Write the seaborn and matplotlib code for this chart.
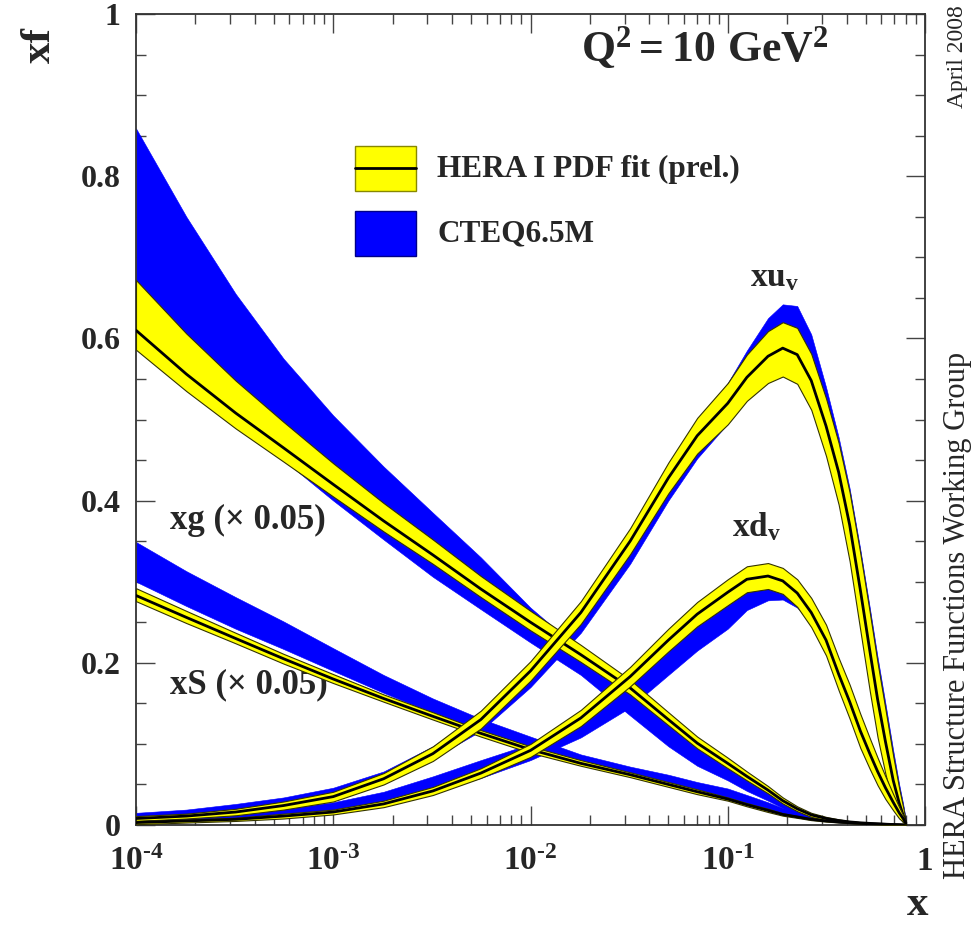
import numpy as np
import pandas as pd
import matplotlib
matplotlib.use("Agg")
import matplotlib.pyplot as plt
from matplotlib.ticker import FixedLocator, NullFormatter
from matplotlib.patches import Rectangle
import seaborn as sns

# x grid
x = [1e-4, 1.8e-4, 3.2e-4, 5.6e-4, 1e-3, 1.8e-3, 3.2e-3, 5.6e-3, 1e-2, 1.8e-2,
     3.2e-2, 5e-2, 7e-2, 0.1, 0.125, 0.16, 0.19, 0.225, 0.265, 0.315,
     0.365, 0.415, 0.47, 0.525, 0.575, 0.63, 0.69, 0.74, 0.775, 0.8]

# xg (x 0.05): HERA central / upper / lower, CTEQ upper / lower
g_c = [0.610, 0.556, 0.508, 0.465, 0.420, 0.375, 0.333, 0.291, 0.250, 0.210,
       0.169, 0.130, 0.101, 0.076, 0.060, 0.043, 0.030, 0.020, 0.0125, 0.008,
       0.0055, 0.0038, 0.0027, 0.002, 0.0015, 0.001, 0.0006, 0.0003, 0.0001, 0.0]
g_hi = [0.672, 0.606, 0.548, 0.497, 0.446, 0.397, 0.352, 0.307, 0.264, 0.222,
        0.179, 0.139, 0.109, 0.083, 0.066, 0.048, 0.034, 0.023, 0.015, 0.010,
        0.007, 0.0048, 0.0035, 0.0026, 0.002, 0.0014, 0.0009, 0.0005, 0.0002, 0.0]
g_lo = [0.586, 0.535, 0.489, 0.448, 0.405, 0.362, 0.322, 0.281, 0.240, 0.201,
        0.161, 0.123, 0.0945, 0.070, 0.055, 0.039, 0.0265, 0.017, 0.010, 0.006,
        0.004, 0.0028, 0.0019, 0.0014, 0.001, 0.0006, 0.0003, 0.0001, 0.0, 0.0]
cg_hi = [0.859, 0.750, 0.655, 0.575, 0.505, 0.442, 0.385, 0.330, 0.268, 0.215,
         0.172, 0.132, 0.103, 0.080, 0.063, 0.046, 0.033, 0.022, 0.0135, 0.009,
         0.006, 0.0042, 0.003, 0.0022, 0.0016, 0.0011, 0.0007, 0.0004, 0.0002, 0.0]
cg_lo = [0.600, 0.545, 0.496, 0.450, 0.400, 0.352, 0.306, 0.266, 0.225, 0.185,
         0.135, 0.097, 0.073, 0.055, 0.042, 0.030, 0.021, 0.013, 0.008, 0.005,
         0.0032, 0.0022, 0.0015, 0.001, 0.0008, 0.0005, 0.0003, 0.0002, 0.0001, 0.0]

# xS (x 0.05)
s_c = [0.283, 0.256, 0.230, 0.205, 0.180, 0.156, 0.134, 0.113, 0.093, 0.076,
       0.062, 0.050, 0.041, 0.032, 0.025, 0.018, 0.013, 0.010, 0.007, 0.005,
       0.0037, 0.0028, 0.002, 0.0015, 0.0011, 0.0008, 0.0005, 0.0003, 0.0001, 0.0]
s_hi = [0.292, 0.264, 0.237, 0.211, 0.186, 0.161, 0.139, 0.117, 0.097, 0.080,
        0.065, 0.053, 0.044, 0.034, 0.027, 0.020, 0.0145, 0.011, 0.008, 0.0058,
        0.0043, 0.0033, 0.0024, 0.0018, 0.0013, 0.0009, 0.0006, 0.0004, 0.0002, 0.0]
s_lo = [0.276, 0.249, 0.224, 0.199, 0.175, 0.152, 0.130, 0.109, 0.089, 0.073,
        0.059, 0.047, 0.038, 0.030, 0.023, 0.016, 0.0115, 0.0088, 0.006, 0.0042,
        0.0031, 0.0023, 0.0016, 0.0012, 0.0009, 0.0006, 0.0004, 0.0002, 0.0001, 0.0]
cs_hi = [0.349, 0.313, 0.281, 0.251, 0.218, 0.185, 0.156, 0.131, 0.109, 0.087,
         0.072, 0.062, 0.053, 0.045, 0.037, 0.028, 0.021, 0.016, 0.011, 0.0075,
         0.005, 0.0037, 0.0027, 0.002, 0.0014, 0.001, 0.0006, 0.0004, 0.0002, 0.0]
cs_lo = [0.300, 0.270, 0.242, 0.217, 0.190, 0.163, 0.138, 0.116, 0.096, 0.078,
         0.064, 0.051, 0.043, 0.034, 0.027, 0.019, 0.014, 0.0105, 0.007, 0.005,
         0.0037, 0.0028, 0.002, 0.0015, 0.0011, 0.0008, 0.0005, 0.0003, 0.0001, 0.0]

# xu_v
u_c = [0.008, 0.011, 0.016, 0.024, 0.035, 0.057, 0.088, 0.130, 0.190, 0.262,
       0.350, 0.428, 0.480, 0.520, 0.552, 0.578, 0.588, 0.580, 0.548, 0.492,
       0.435, 0.370, 0.290, 0.215, 0.155, 0.103, 0.055, 0.027, 0.012, 0.003]
u_hi = [0.011, 0.014, 0.020, 0.029, 0.041, 0.064, 0.097, 0.141, 0.202, 0.276,
        0.366, 0.447, 0.502, 0.545, 0.580, 0.609, 0.620, 0.613, 0.581, 0.526,
        0.471, 0.410, 0.335, 0.262, 0.200, 0.143, 0.085, 0.045, 0.022, 0.005]
u_lo = [0.005, 0.008, 0.012, 0.019, 0.029, 0.050, 0.079, 0.119, 0.178, 0.248,
        0.334, 0.409, 0.458, 0.494, 0.523, 0.545, 0.553, 0.544, 0.512, 0.455,
        0.395, 0.325, 0.240, 0.165, 0.108, 0.063, 0.025, 0.010, 0.003, 0.001]
cu_hi = [0.015, 0.019, 0.026, 0.034, 0.046, 0.066, 0.097, 0.138, 0.197, 0.269,
         0.358, 0.440, 0.497, 0.545, 0.585, 0.625, 0.642, 0.640, 0.605, 0.540,
         0.478, 0.415, 0.340, 0.268, 0.207, 0.150, 0.092, 0.050, 0.026, 0.006]
cu_lo = [0.008, 0.011, 0.016, 0.024, 0.035, 0.055, 0.082, 0.116, 0.170, 0.237,
         0.322, 0.400, 0.452, 0.495, 0.528, 0.555, 0.565, 0.560, 0.530, 0.470,
         0.405, 0.335, 0.250, 0.175, 0.118, 0.072, 0.032, 0.013, 0.005, 0.0]

# xd_v
d_c = [0.003, 0.005, 0.007, 0.011, 0.016, 0.026, 0.042, 0.064, 0.092, 0.132,
       0.183, 0.228, 0.260, 0.287, 0.303, 0.307, 0.301, 0.286, 0.262, 0.228,
       0.186, 0.152, 0.116, 0.088, 0.066, 0.046, 0.028, 0.015, 0.008, 0.002]
d_hi = [0.005, 0.007, 0.009, 0.014, 0.019, 0.030, 0.047, 0.070, 0.100, 0.142,
        0.195, 0.242, 0.275, 0.303, 0.319, 0.323, 0.317, 0.303, 0.280, 0.247,
        0.206, 0.173, 0.137, 0.107, 0.083, 0.060, 0.038, 0.022, 0.012, 0.003]
d_lo = [0.001, 0.003, 0.005, 0.008, 0.013, 0.022, 0.037, 0.058, 0.084, 0.122,
        0.171, 0.214, 0.245, 0.271, 0.287, 0.291, 0.285, 0.269, 0.244, 0.209,
        0.166, 0.131, 0.095, 0.069, 0.049, 0.032, 0.018, 0.008, 0.004, 0.001]
cd_hi = [0.007, 0.010, 0.014, 0.020, 0.028, 0.041, 0.060, 0.080, 0.100, 0.135,
         0.180, 0.222, 0.252, 0.278, 0.293, 0.298, 0.294, 0.281, 0.260, 0.228,
         0.188, 0.155, 0.120, 0.092, 0.070, 0.050, 0.031, 0.017, 0.009, 0.002]
cd_lo = [0.003, 0.005, 0.008, 0.012, 0.018, 0.028, 0.040, 0.058, 0.080, 0.108,
         0.145, 0.185, 0.215, 0.242, 0.265, 0.277, 0.278, 0.268, 0.250, 0.218,
         0.176, 0.140, 0.104, 0.076, 0.055, 0.037, 0.021, 0.010, 0.004, 0.0]

YELLOW = "#ffff00"
BLUE = "#0000ff"

sns.set_theme(style="ticks")
plt.rcParams["font.family"] = ["Liberation Serif", "DejaVu Serif"]
plt.rcParams["font.weight"] = "bold"
plt.rcParams["mathtext.fontset"] = "custom"
plt.rcParams["mathtext.rm"] = "Liberation Serif:bold"
plt.rcParams["mathtext.bf"] = "Liberation Serif:bold"
plt.rcParams["mathtext.it"] = "Liberation Serif:bold"
plt.rcParams["mathtext.default"] = "bf"

fig = plt.figure(figsize=(9.71, 9.27), dpi=100)
ax = fig.add_axes([136 / 971, 1 - 825 / 927, (925 - 136) / 971, (825 - 14) / 927])

cteq = [(cg_lo, cg_hi), (cs_lo, cs_hi), (cu_lo, cu_hi), (cd_lo, cd_hi)]
hera = [(g_lo, g_c, g_hi), (s_lo, s_c, s_hi), (u_lo, u_c, u_hi), (d_lo, d_c, d_hi)]

# CTEQ bands underneath, HERA bands with central line on top
for lo, hi in cteq:
    ax.fill_between(x, lo, hi, color=BLUE, lw=0.4, zorder=2)

for i, (lo, c, hi) in enumerate(hera):
    ax.fill_between(x, lo, hi, facecolor=YELLOW, edgecolor="#333300", lw=0.8, zorder=3 + i)
    df = pd.DataFrame({"x": x, "y": c})
    sns.lineplot(data=df, x="x", y="y", ax=ax, color="black", lw=2.0, zorder=3 + i,
                 estimator=None, sort=False)

ax.set_xscale("log")
ax.set_xlim(1e-4, 1)
ax.set_ylim(0, 1)
ax.set_xlabel("")
ax.set_ylabel("")

ax.set_xticks([1e-4, 1e-3, 1e-2, 1e-1, 1])
ax.set_xticklabels([r"$10^{\text{-4}}$", r"$10^{\text{-3}}$", r"$10^{\text{-2}}$",
                    r"$10^{\text{-1}}$", "1"])
minors = [m * 10.0 ** e for e in range(-4, 0) for m in range(2, 10)]
ax.xaxis.set_minor_locator(FixedLocator(minors))
ax.xaxis.set_minor_formatter(NullFormatter())
ax.set_yticks([0, 0.2, 0.4, 0.6, 0.8, 1.0])
ax.set_yticklabels(["0", "0.2", "0.4", "0.6", "0.8", "1"])
ax.yaxis.set_minor_locator(FixedLocator(np.arange(0, 1.0001, 0.05)))

ax.tick_params(which="both", direction="in", top=True, right=True, color="#444444")
ax.tick_params(which="major", length=14, width=1.0)
ax.tick_params(which="minor", length=7, width=1.0)
ax.tick_params(axis="x", which="major", pad=15, labelsize=24)
ax.tick_params(axis="y", which="major", pad=11, labelsize=23)
for lab in ax.get_yticklabels() + ax.get_xticklabels():
    lab.set_fontweight("bold")
for sp in ax.spines.values():
    sp.set_linewidth(1.3)
    sp.set_color("#333333")


def to_ax(px, py):
    return (px - 136) / (925 - 136), (825 - py) / (825 - 14)


# legend boxes
x0, y0 = to_ax(355, 191)
x1, y1 = to_ax(416, 146)
ax.add_patch(Rectangle((x0, y0), x1 - x0, y1 - y0, transform=ax.transAxes,
                       facecolor=YELLOW, edgecolor="#888800", lw=1, zorder=10))
ax.plot([x0, x1], [(y0 + y1) / 2] * 2, transform=ax.transAxes, color="black", lw=2, zorder=11)
x0, y0 = to_ax(355, 256)
x1, y1 = to_ax(416, 211)
ax.add_patch(Rectangle((x0, y0), x1 - x0, y1 - y0, transform=ax.transAxes,
                       facecolor=BLUE, edgecolor="#000088", lw=1, zorder=10))
tx, ty = to_ax(437, 169)
ax.text(tx, ty, "HERA I PDF fit (prel.)", transform=ax.transAxes, fontsize=22.5,
        fontweight="bold", va="center", ha="left")
tx, ty = to_ax(437, 234)
ax.text(tx, ty, "CTEQ6.5M", transform=ax.transAxes, fontsize=22.5,
        fontweight="bold", va="center", ha="left")

tx, ty = to_ax(828, 48)
ax.text(tx, ty, r"$Q^2 = 10\ GeV^2$", transform=ax.transAxes, fontsize=31.5,
        ha="right", va="center")
tx, ty = to_ax(775, 278)
ax.text(tx, ty, r"$xu_v$", transform=ax.transAxes, fontsize=24, ha="center", va="center")
tx, ty = to_ax(757, 527)
ax.text(tx, ty, r"$xd_v$", transform=ax.transAxes, fontsize=24, ha="center", va="center")
tx, ty = to_ax(170, 520)
ax.text(tx, ty, "xg (\u00d7 0.05)", transform=ax.transAxes, fontsize=25,
        fontweight="bold", ha="left", va="center")
tx, ty = to_ax(170, 685)
ax.text(tx, ty, "xS (\u00d7 0.05)", transform=ax.transAxes, fontsize=25,
        fontweight="bold", ha="left", va="center")

fig.text(40 / 971, 1 - 45 / 927, "xf", rotation=90, fontsize=31, fontweight="bold",
         ha="center", va="center")
fig.text(918 / 971, 1 - 905 / 927, "x", fontsize=31, fontweight="bold",
         ha="center", va="center")
fig.text(957 / 971, 1 - 57 / 927, "April 2008", rotation=90, fontsize=17,
         fontweight="normal", ha="center", va="center")
fig.text(957 / 971, 1 - 615 / 927, "HERA Structure Functions Working Group", rotation=90,
         fontsize=22, fontweight="normal", ha="center", va="center")

fig.savefig("out.png", dpi=100)
